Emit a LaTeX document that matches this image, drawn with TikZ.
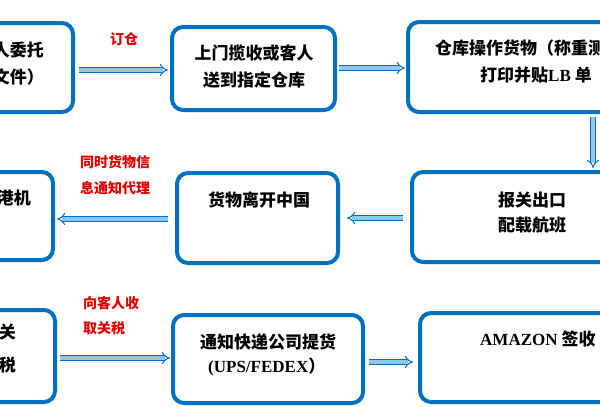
\documentclass[tikz,border=0pt]{standalone}
\usepackage{fontspec}
\newfontfamily\cjk{Noto Sans CJK SC}
\newfontfamily\lat{Liberation Serif}
\usetikzlibrary{arrows.meta}
\definecolor{boxblue}{RGB}{0,112,192}
\definecolor{arrfill}{RGB}{150,195,235}
\definecolor{lblred}{RGB}{225,0,0}
\begin{document}
\begin{tikzpicture}[x=1pt,y=-1pt,
  box/.style={draw=boxblue, line width=4pt, rounded corners=11pt, fill=white, inner sep=0pt},
  txt/.style={inner sep=0pt, font=\cjk\bfseries\fontsize{17}{17}\selectfont, text=black},
  lbl/.style={inner sep=0pt, font=\cjk\bfseries\fontsize{14}{14}\selectfont, text=lblred},
  arr/.style={draw=boxblue, line width=1pt, double=arrfill, double distance=3.2pt, -{Implies}}]
\useasboundingbox (0,0) rectangle (600,407);
\clip (0,0) rectangle (600,407);
% boxes
\node[box, minimum width=173pt, minimum height=89pt] (A) at (-13.5,67.5) {};
\node[box, minimum width=163pt, minimum height=83pt] (B) at (253.5,68.5) {};
\node[box, minimum width=292pt, minimum height=90pt] (C) at (554,67) {};
\node[box, minimum width=288pt, minimum height=90pt] (D) at (556,217) {};
\node[box, minimum width=161pt, minimum height=90pt] (E) at (257.5,218) {};
\node[box, minimum width=153pt, minimum height=88pt] (F) at (-23.5,216) {};
\node[box, minimum width=155pt, minimum height=92pt] (G) at (-22.5,356) {};
\node[box, minimum width=190pt, minimum height=88pt] (H) at (268,359) {};
\node[box, minimum width=280pt, minimum height=89pt] (I) at (560,357.5) {};
% box texts
\node[txt, anchor=east] (ta1) at (44,50) {人委托};
\node[txt, anchor=east] (ta2) at (44,77) {文件）};
\node[txt] (tb1) at (254,53) {上门揽收或客人};
\node[txt] (tb2) at (254,80) {送到指定仓库};
\node[txt, anchor=west] (tc1) at (435,48) {仓库操作货物（称重测};
\node[txt, anchor=west] (tc2) at (480,75) {打印并贴{\lat\bfseries LB} 单};
\node[txt, anchor=west] (td1) at (498,200) {报关出口};
\node[txt, anchor=west] (td2) at (498,225) {配载航班};
\node[txt] (te1) at (259,200) {货物离开中国};
\node[txt, anchor=east] (tf1) at (31,198) {港机};
\node[txt, anchor=east] (tg1) at (16,332) {关};
\node[txt, anchor=east] (tg2) at (16,365) {税};
\node[txt] (th1) at (268,342) {通知快递公司提货};
\node[txt, anchor=west] (th2) at (208,367) {{\lat\bfseries (UPS/FEDEX}）};
\node[txt, anchor=west] (ti1) at (480,339) {{\lat\bfseries AMAZON} 签收};
% labels
\node[lbl] (l1) at (124,39) {订仓};
\node[lbl, anchor=west] (l2a) at (80,162) {同时货物信};
\node[lbl, anchor=west] (l2b) at (80,188) {息通知代理};
\node[lbl, anchor=west] (l3a) at (83,303) {向客人收};
\node[lbl, anchor=west] (l3b) at (83,328) {取关税};
% connector levels
\coordinate (yab) at (0,70);
\coordinate (ybc) at (0,68);
\coordinate (xcd) at (593,0);
\coordinate (yde) at (0,218);
\coordinate (yef) at (0,219);
\coordinate (ygh) at (0,358);
\coordinate (yhi) at (0,362);
% connectors
\draw[arr, shorten <=4pt, shorten >=2pt] (A.east |- yab) -- (B.west |- yab);
\draw[arr, shorten <=2pt, shorten >=1pt] (B.east |- ybc) -- (C.west |- ybc);
\draw[arr, shorten <=3pt, shorten >=2pt] (C.south -| xcd) -- (D.north -| xcd);
\draw[arr, shorten <=7pt, shorten >=7pt] (D.west |- yde) -- (E.east |- yde);
\draw[arr, shorten <=7pt, shorten >=2pt] (E.west |- yef) -- (F.east |- yef);
\draw[arr, shorten <=3pt, shorten >=1pt] (G.east |- ygh) -- (H.west |- ygh);
\draw[arr, shorten <=4pt, shorten >=5pt] (H.east |- yhi) -- (I.west |- yhi);
\end{tikzpicture}
\end{document}
